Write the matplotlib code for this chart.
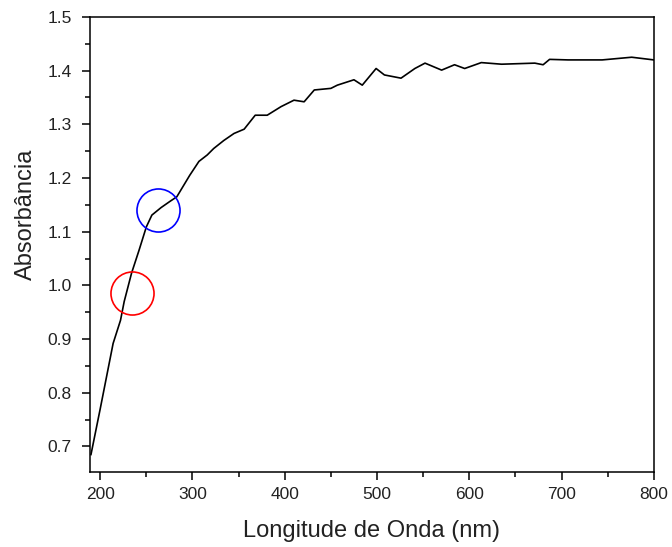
import matplotlib
matplotlib.use("Agg")
import matplotlib.pyplot as plt
from matplotlib.ticker import MultipleLocator

plt.rcParams['font.family'] = ['Liberation Sans', 'DejaVu Sans']

# espectro de absorbância
wavelength = [190, 200, 214, 222, 226, 234, 242, 250, 256, 266, 276, 283, 290, 297,
              307, 316, 323, 334, 345, 356, 368, 381, 396, 410, 421, 432, 450, 457,
              475, 484, 499, 508, 526, 541, 552, 570, 584, 595, 613, 635, 671, 680,
              687, 707, 744, 776, 800]
absorbance = [0.685, 0.77, 0.892, 0.935, 0.97, 1.023, 1.065, 1.109, 1.131, 1.145, 1.157,
              1.165, 1.185, 1.205, 1.231, 1.243, 1.255, 1.27, 1.283, 1.291, 1.317, 1.317,
              1.333, 1.345, 1.342, 1.364, 1.367, 1.373, 1.383, 1.373, 1.404, 1.392, 1.386,
              1.404, 1.414, 1.401, 1.411, 1.404, 1.415, 1.412, 1.414, 1.411, 1.421, 1.420,
              1.420, 1.425, 1.420]

# pontos destacados com círculos
mark_x = [234.5, 263.0]
mark_y = [0.986, 1.141]
mark_colors = ['#ff0000', '#0000ff']

fig = plt.figure(figsize=(6.72, 5.47), dpi=100)
ax = fig.add_axes([0.134, 0.1376, 0.839, 0.8314])

ax.plot(wavelength, absorbance, color='black', linewidth=1.2)
for x, y, c in zip(mark_x, mark_y, mark_colors):
    ax.plot(x, y, marker='o', markersize=31, markerfacecolor='none',
            markeredgecolor=c, markeredgewidth=1.2)

ax.set_xlim(189, 800)
ax.set_ylim(0.653, 1.5)
ax.xaxis.set_major_locator(MultipleLocator(100))
ax.xaxis.set_minor_locator(MultipleLocator(50))
ax.yaxis.set_major_locator(MultipleLocator(0.1))
ax.yaxis.set_minor_locator(MultipleLocator(0.05))

for s in ax.spines.values():
    s.set_linewidth(1.1)
ax.tick_params(which='major', direction='out', length=6, width=1.1, labelsize=12.5,
               pad=5, labelcolor='#222222')
ax.tick_params(which='minor', direction='out', length=3.5, width=1.1)
ax.tick_params(axis='y', which='major', pad=7)

ax.set_xlabel('Longitude de Onda (nm)', fontsize=17, labelpad=13, color='#222222')
ax.set_ylabel('Absorbância', fontsize=17, color='#222222')
ax.yaxis.set_label_coords(-0.095, 0.567)

plt.savefig('out.png', dpi=100)
